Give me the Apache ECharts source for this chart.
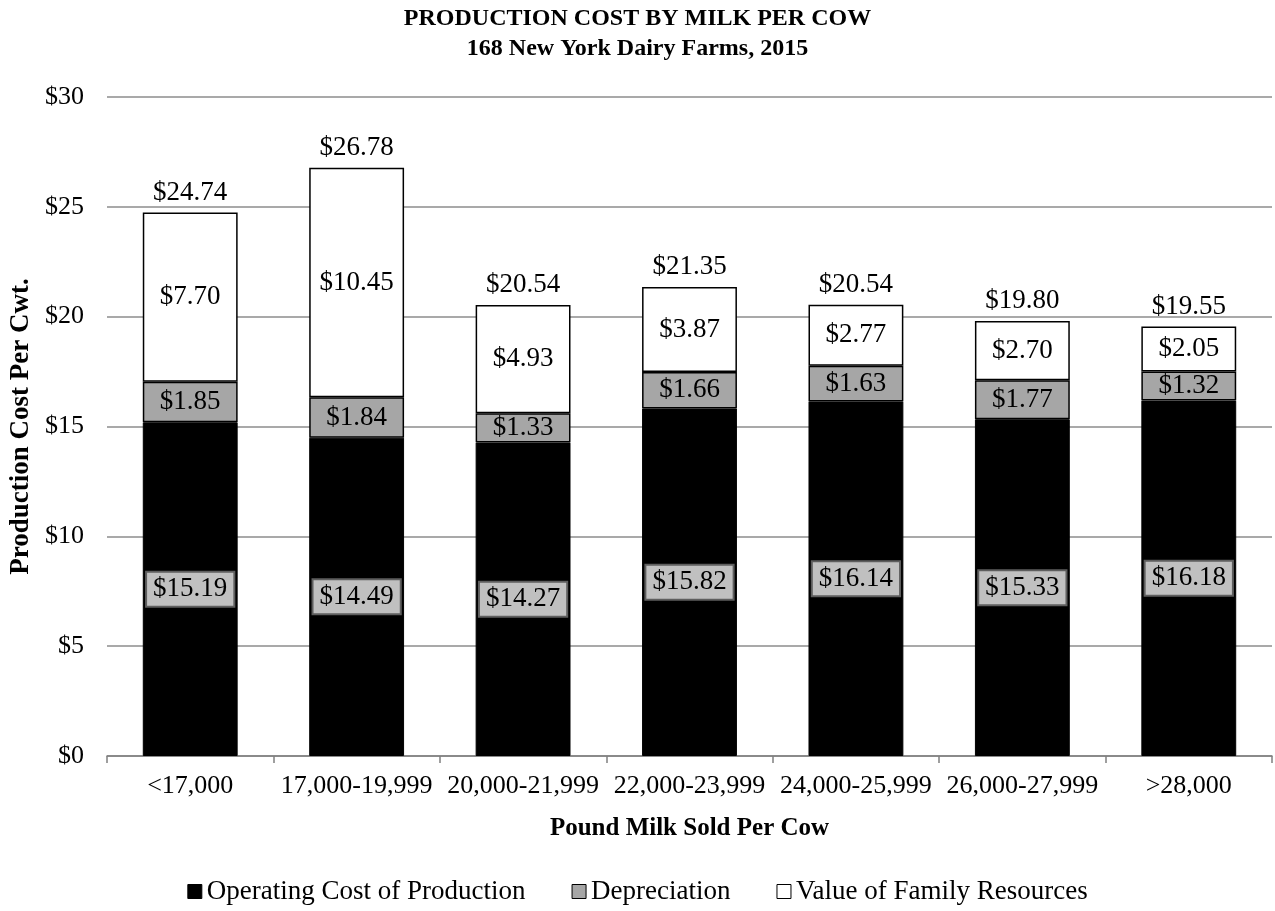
<!DOCTYPE html>
<html>
<head>
<meta charset="utf-8">
<script src="https://cdn.jsdelivr.net/npm/echarts@6/dist/echarts.min.js"></script>
<style>
  html, body { margin: 0; padding: 0; background: #fff; }
  #chart { width: 1275px; height: 911px; }
</style>
</head>
<body>
<div id="chart"></div>
<script>
// data
var categories = ['<17,000', '17,000-19,999', '20,000-21,999', '22,000-23,999', '24,000-25,999', '26,000-27,999', '>28,000'];
var operating = [15.19, 14.49, 14.27, 15.82, 16.14, 15.33, 16.18];
var depreciation = [1.85, 1.84, 1.33, 1.66, 1.63, 1.77, 1.32];
var family = [7.70, 10.45, 4.93, 3.87, 2.77, 2.70, 2.05];
var totals = [24.74, 26.78, 20.54, 21.35, 20.54, 19.80, 19.55];
var yTicks = [0, 5, 10, 15, 20, 25, 30];

var FONT = '"Liberation Serif", "DejaVu Serif", serif';

function money(v) {
    return '$' + Number(v).toFixed(2);
}

var chartDom = document.getElementById('chart');
var myChart = echarts.init(chartDom);

var option = {
    backgroundColor: '#fff',
    textStyle: { fontFamily: FONT, color: '#000' },
    title: {
        text: 'PRODUCTION COST BY MILK PER COW\n168 New York Dairy Farms, 2015',
        left: 'center',
        top: -1,
        textStyle: { fontFamily: FONT, fontSize: 24, fontWeight: 'bold', color: '#000', lineHeight: 30 }
    },
    legend: {
        bottom: 1,
        left: 'center',
        icon: 'rect',
        itemWidth: 14,
        itemHeight: 14,
        itemGap: 46,
        textStyle: { fontFamily: FONT, fontSize: 27, color: '#000' },
        data: [
            { name: 'Operating Cost of Production', itemStyle: { color: '#000', borderColor: '#000', borderWidth: 1 } },
            { name: 'Depreciation', itemStyle: { color: '#a6a6a6', borderColor: '#000', borderWidth: 1 } },
            { name: 'Value of Family Resources', itemStyle: { color: '#fff', borderColor: '#000', borderWidth: 1 } }
        ]
    },
    grid: { left: 107, right: 3, top: 97, bottom: 155, outerBoundsMode: 'none' },
    xAxis: {
        type: 'category',
        data: categories,
        name: 'Pound Milk Sold Per Cow',
        nameLocation: 'middle',
        nameGap: 60,
        nameTextStyle: { fontFamily: FONT, fontSize: 25, fontWeight: 'bold', color: '#000' },
        axisLine: { lineStyle: { color: '#808080', width: 1.5 } },
        axisTick: { show: true, length: 7, lineStyle: { color: '#808080', width: 1.5 } },
        axisLabel: { fontFamily: FONT, fontSize: 26, color: '#000', margin: 17, interval: 0 }
    },
    yAxis: {
        type: 'value',
        min: yTicks[0],
        max: yTicks[yTicks.length - 1],
        interval: 5,
        name: 'Production Cost Per Cwt.',
        nameLocation: 'middle',
        nameGap: 70,
        nameTextStyle: { fontFamily: FONT, fontSize: 27, fontWeight: 'bold', color: '#000' },
        axisLine: { show: false },
        axisTick: { show: false },
        axisLabel: { fontFamily: FONT, fontSize: 26, color: '#000', margin: 23, formatter: function (v) { return '$' + v; } },
        splitLine: { lineStyle: { color: '#8c8c8c', width: 1.5 } }
    },
    series: [
        {
            name: 'Operating Cost of Production',
            type: 'bar',
            stack: 'cost',
            barWidth: '57%',
            data: operating,
            itemStyle: { color: '#000', borderColor: '#000', borderWidth: 1 },
            label: {
                show: true,
                position: 'inside',
                formatter: function (p) { return money(p.value); },
                fontFamily: FONT,
                fontSize: 27,
                color: '#000',
                backgroundColor: '#c0c0c0',
                borderColor: '#5e5e5e',
                borderWidth: 2,
                padding: [4, 6, 2, 6]
            }
        },
        {
            name: 'Depreciation',
            type: 'bar',
            stack: 'cost',
            data: depreciation,
            itemStyle: { color: '#a6a6a6', borderColor: '#000', borderWidth: 1.5 },
            label: {
                show: true,
                position: 'inside',
                formatter: function (p) { return money(p.value); },
                fontFamily: FONT,
                fontSize: 27,
                color: '#000'
            }
        },
        {
            name: 'Value of Family Resources',
            type: 'bar',
            stack: 'cost',
            data: family,
            itemStyle: { color: '#fff', borderColor: '#000', borderWidth: 1.5 },
            label: {
                show: true,
                position: 'inside',
                formatter: function (p) { return money(p.value); },
                fontFamily: FONT,
                fontSize: 27,
                color: '#000'
            }
        },
        {
            name: 'Total',
            type: 'line',
            data: totals,
            symbol: 'circle',
            symbolSize: 1,
            showSymbol: true,
            itemStyle: { color: 'transparent' },
            lineStyle: { opacity: 0 },
            silent: true,
            label: {
                show: true,
                position: 'top',
                distance: 6,
                formatter: function (p) { return money(p.value); },
                fontFamily: FONT,
                fontSize: 27,
                color: '#000'
            }
        }
    ]
};

myChart.setOption(option);
</script>
</body>
</html>
